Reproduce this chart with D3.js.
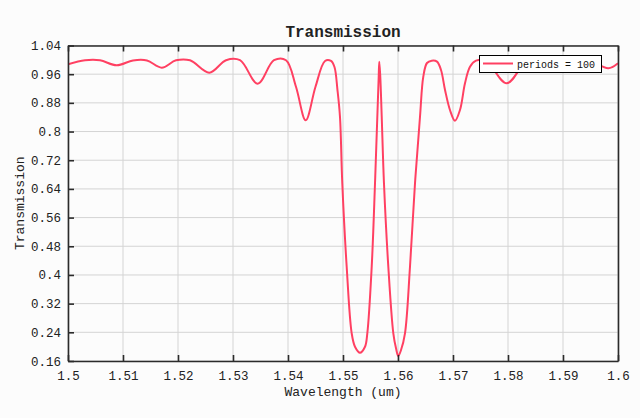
<!DOCTYPE html>
<html><head><meta charset="utf-8">
<script src="https://cdn.jsdelivr.net/npm/d3@7"></script>
<style>
html,body{margin:0;padding:0;background:#fcfcfc;}
svg{display:block;font-family:"Liberation Mono","DejaVu Sans Mono",monospace;}
</style></head><body>
<svg id="chart" width="640" height="418"></svg>
<script>
const wavelength = [1.50000,1.50309,1.50582,1.50885,1.51182,1.51436,1.51704,1.51964,1.52218,1.52569,
 1.52873,1.53127,1.53449,1.53745,1.53964,1.54145,1.54322,1.54500,1.54673,1.54782,
 1.54845,1.54900,1.54945,1.54987,1.55067,1.55158,1.55218,1.55309,1.55400,1.55442,1.55522,
 1.55582,1.55624,1.55649,1.55660,1.55678,1.55704,1.55745,1.55824,1.55915,1.55964,1.56005,1.56055,
 1.56127,1.56218,1.56309,1.56400,1.56460,1.56527,1.56613,1.56709,1.56782,1.56855,1.56945,1.57036,
 1.57127,1.57218,1.57309,1.57418,1.57600,1.57976,1.58345,1.58545,1.58909,1.59273,1.59491,1.59824,
 1.60000];
const transmission = [0.9876,0.9987,0.9987,0.9848,0.9982,0.9982,0.9781,0.9987,0.9987,0.9641,
 0.9990,0.9990,0.9334,0.9990,0.9990,0.9250,0.8314,0.9250,0.9968,0.9968,
 0.9800,0.9150,0.8414,0.6556,0.4230,0.2372,0.1998,0.1831,0.1998,0.2372,0.4230,
 0.6556,0.8414,0.9530,0.9948,0.9530,0.8414,0.6556,0.4230,0.2372,0.1954,0.1739,0.1906,
 0.2372,0.4230,0.6556,0.8414,0.9530,0.9912,0.9976,0.9950,0.9717,0.9159,0.8601,0.8302,
 0.8601,0.9346,0.9809,0.9976,0.9976,0.9346,0.9980,0.9980,0.9660,0.9980,0.9980,0.9764,
 0.9903];
const xTicks = [1.5,1.51,1.52,1.53,1.54,1.55,1.56,1.57,1.58,1.59,1.6];
const xTickLabels = ["1.5","1.51","1.52","1.53","1.54","1.55","1.56","1.57","1.58","1.59","1.6"];
const yTicks = [0.16,0.24,0.32,0.4,0.48,0.56,0.64,0.72,0.8,0.88,0.96,1.04];
const yTickLabels = ["0.16","0.24","0.32","0.4","0.48","0.56","0.64","0.72","0.8","0.88","0.96","1.04"];
const seriesName = "periods = 100";
const titleText = "Transmission";
const xLabel = "Wavelength (um)";
const yLabel = "Transmission";

const svg = d3.select("#chart");
const L = 68, R = 618, T = 45.5, B = 361;
const x = d3.scaleLinear().domain([1.5,1.6]).range([L,R]);
const y = d3.scaleLinear().domain([0.16,1.04]).range([B,T]);
const data = wavelength.map((w,i)=>({w, t: transmission[i]}));

// grid
const g = svg.append("g");
g.selectAll(".vg").data(xTicks).enter().append("line")
  .attr("x1",d=>x(d)).attr("x2",d=>x(d)).attr("y1",T).attr("y2",B)
  .attr("stroke","#d4d4d4").attr("stroke-width",1);
g.selectAll(".hg").data(yTicks).enter().append("line")
  .attr("x1",L).attr("x2",R).attr("y1",d=>y(d)).attr("y2",d=>y(d))
  .attr("stroke","#d4d4d4").attr("stroke-width",1);

// curve
svg.append("defs").append("clipPath").attr("id","clip")
  .append("rect").attr("x",L).attr("y",T).attr("width",R-L).attr("height",B-T);
svg.append("path").datum(data)
  .attr("clip-path","url(#clip)")
  .attr("d", d3.line().x(d=>x(d.w)).y(d=>y(d.t)).curve(d3.curveCatmullRom.alpha(0.5)))
  .attr("fill","none").attr("stroke","#ff4062").attr("stroke-width",2);

// axes
const fmtX = (d,i)=>xTickLabels[i];
const fmtY = (d,i)=>yTickLabels[i];
const ax = svg.append("g").attr("transform",`translate(0,${B})`)
  .call(d3.axisBottom(x).tickValues(xTicks).tickFormat(fmtX).tickSizeInner(-6).tickSizeOuter(0).tickPadding(10));
const ay = svg.append("g").attr("transform",`translate(${L},0)`)
  .call(d3.axisLeft(y).tickValues(yTicks).tickFormat(fmtY).tickSizeInner(-6).tickSizeOuter(0).tickPadding(7));
const at = svg.append("g").attr("transform",`translate(0,${T})`)
  .call(d3.axisTop(x).tickValues(xTicks).tickFormat("").tickSizeInner(-6).tickSizeOuter(0));
const ar = svg.append("g").attr("transform",`translate(${R},0)`)
  .call(d3.axisRight(y).tickValues([]).tickSizeOuter(0));
[ax,ay,at,ar].forEach(a=>{
  a.selectAll("path.domain").attr("stroke","#2b2b2b").attr("stroke-width",1.6);
  a.selectAll(".tick line").attr("stroke","#2b2b2b").attr("stroke-width",1.6);
  a.selectAll("text").attr("fill","#222").style("font-size","12.5px")
    .style("font-family",'"Liberation Mono","DejaVu Sans Mono",monospace');
});
ax.selectAll("text").attr("dy","0.71em");

// title & labels
svg.append("text").attr("x",(L+R)/2).attr("y",37).attr("text-anchor","middle")
  .style("font-size","16px").style("font-weight","bold").attr("fill","#222").text(titleText);
svg.append("text").attr("x",(L+R)/2).attr("y",396).attr("text-anchor","middle")
  .style("font-size","13px").attr("fill","#222").text(xLabel);
svg.append("text").attr("transform",`translate(24,${(T+B)/2}) rotate(-90)`).attr("text-anchor","middle")
  .style("font-size","13px").attr("fill","#222").text(yLabel);

// legend
const lg = svg.append("g");
lg.append("rect").attr("x",479.5).attr("y",55.5).attr("width",122).attr("height",17)
  .attr("fill","#ffffff").attr("stroke","#000").attr("stroke-width",1);
lg.append("line").attr("x1",483).attr("x2",513).attr("y1",63.5).attr("y2",63.5)
  .attr("stroke","#ff4062").attr("stroke-width",2);
lg.append("text").attr("x",517).attr("y",67.5).style("font-size","10px").attr("fill","#111").text(seriesName);
</script>
</body></html>
